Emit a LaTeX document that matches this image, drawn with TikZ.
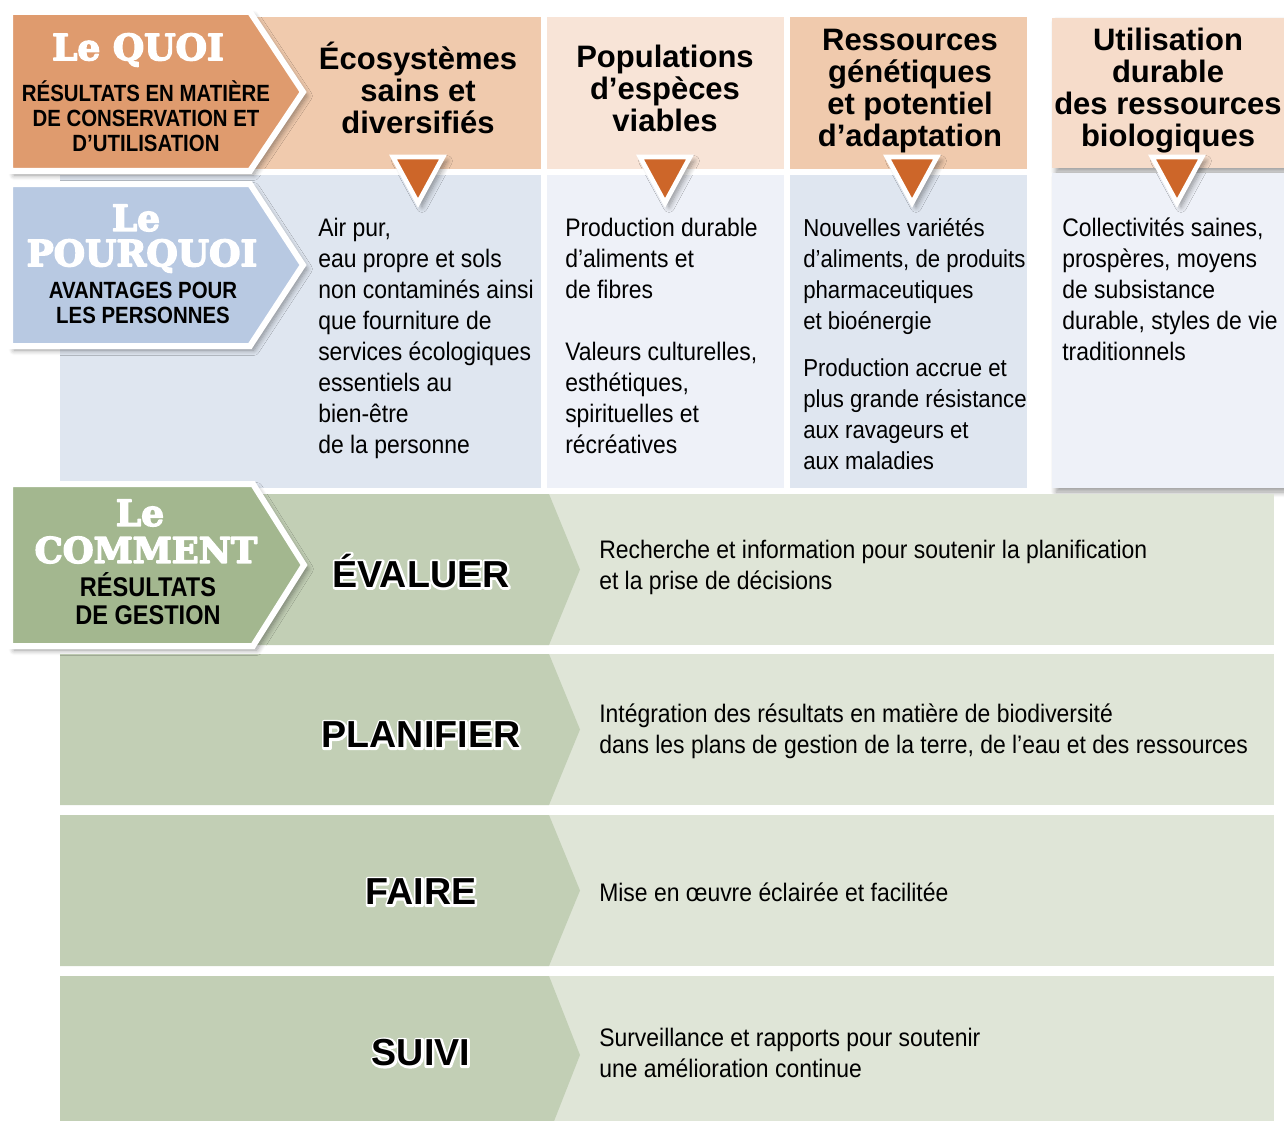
\documentclass[tikz,border=0pt]{standalone}
\usepackage{fontspec}
\setmainfont{Liberation Sans}
\newfontfamily\narrowfont[FakeStretch=0.905]{Liberation Sans}
\newfontfamily\capsfont[FakeStretch=0.87]{Liberation Sans}
\newfontfamily\slabfont{DejaVu Serif}
\usetikzlibrary{shadows.blur}
\definecolor{quoi}{HTML}{DF9B6E}
\definecolor{peachA}{HTML}{F0CAAD}
\definecolor{peachB}{HTML}{F8E4D7}
\definecolor{peachC}{HTML}{F6DCCA}
\definecolor{pourquoi}{HTML}{B8C9E2}
\definecolor{blueA}{HTML}{DFE6F0}
\definecolor{blueB}{HTML}{EEF1F8}
\definecolor{tri}{HTML}{CD6629}
\definecolor{comment}{HTML}{A3B78F}
\definecolor{greenA}{HTML}{C2CFB5}
\definecolor{greenB}{HTML}{DFE5D7}
% black word with a white rim (stroked copy underneath)
\newcommand\rimtext[1]{%
  \rlap{\special{pdf:code 1 Tr 1 1 1 RG 3.4 w 1 j}#1\special{pdf:code 0 Tr 0 0 0 RG 0.4 w 0 j}}#1}
% heavier slab letters
\newcommand\heavy[1]{%
  \special{pdf:code 2 Tr 1 1 1 RG 1.1 w 1 j}#1\special{pdf:code 0 Tr 0 0 0 RG 0.4 w 0 j}}
\begin{document}
\begin{tikzpicture}[x=0.75pt,y=-0.75pt,
  shade/.style={blur shadow={shadow xshift=3pt,shadow yshift=-3pt,shadow opacity=40,shadow blur radius=4pt,shadow blur steps=8}},
  tag/.style={draw=white,line width=4.5pt,shade},
  head/.style={font=\bfseries\fontsize{23.25}{24}\selectfont,align=center,inner sep=0},
  body/.style={font=\narrowfont\fontsize{19}{23.25}\selectfont,align=left,anchor=north west,inner sep=0},
  slab/.style={font=\slabfont\bfseries\fontsize{27}{28}\selectfont,text=white,inner sep=0},
  caps/.style={font=\capsfont\bfseries\fontsize{17.6}{18.8}\selectfont,align=center,inner sep=0},
  step label/.style={font=\bfseries\fontsize{28.2}{29}\selectfont,inner sep=0},
  stepdesc/.style={font=\narrowfont\fontsize{19}{23.25}\selectfont,align=left,anchor=west,inner sep=0}]
\useasboundingbox (0,0) rectangle (1284,1120);
\clip (0,0) rectangle (1284,1120);
% the what / the why cells
\fill[peachA](60,17)rectangle(541,169);
\fill[peachB](547,17)rectangle(784,169);
\fill[peachA](790,17)rectangle(1027,169);
\fill[peachC,shade](1052,18)rectangle(1284,168);
\fill[blueA](60,175)rectangle(541,488);
\fill[blueB](547,175)rectangle(784,488);
\fill[blueA](790,175)rectangle(1027,488);
\fill[blueB,shade](1052,173)rectangle(1284,488);
% the how rows
\foreach \t/\b in {494/645,654/805,976/1134,815/966}{
  \fill[greenB](549,\t)rectangle(1274,\b);
  \fill[greenA](60,\t)--(549,\t)--(580,{(\t+\b)/2})--(549,\b)--(60,\b)--cycle;
}
% down triangles
\foreach \x in {418,665,912,1177}
  \draw[tri,fill=tri,draw=white,line width=3.5pt,shade](\x-25,157)--(\x+25,157)--(\x,203)--cycle;
% side tags
\draw[tag,fill=quoi](10,12)--(250,12)--(303,92)--(250,171)--(10,171)--cycle;
\draw[tag,fill=pourquoi](10,184)--(250,184)--(303,265)--(250,346)--(10,346)--cycle;
\draw[tag,fill=comment](10,484)--(253,484)--(304,565)--(253,646)--(10,646)--cycle;
%
\node[slab] (quoi) at (138,50) {\heavy{Le QUOI}};
\node[caps] (quoisub) at (146,116) {RÉSULTATS EN MATIÈRE\\DE CONSERVATION ET\\D’UTILISATION};
\node[slab] (pourquoi1) at (136,218) {\heavy{Le}};
\node[slab] (pourquoi2) at (142,256) {\heavy{POURQUOI}};
\node[caps] (pourquoisub) at (143,302.5) {AVANTAGES POUR\\LES PERSONNES};
\node[slab] (comment1) at (140,513) {\heavy{Le}};
\node[slab,font=\slabfont\bfseries\fontsize{26.5}{28}\selectfont] (comment2) at (146,550) {\heavy{COMMENT}};
\node[caps,font=\capsfont\bfseries\fontsize{20.3}{21}\selectfont] (commentsub) at (148,599) {RÉSULTATS\\DE GESTION};
% headers
\node[head] (eco) at (418,88) {Écosystèmes\\sains et\\diversifiés};
\node[head] (pop) at (665,88) {Populations\\d’espèces\\viables};
\node[head] (gen) at (910,91) {Ressources\\génétiques\\et potentiel\\d’adaptation};
\node[head] (util) at (1168,91) {Utilisation\\durable\\des ressources\\biologiques};
% benefits
\node[body] (ecotxt) at (318,218) {Air pur,\\eau propre et sols\\non contaminés ainsi\\que fourniture de\\services écologiques\\essentiels au\\bien-être\\de la personne};
\node[body] (poptxt) at (565,218) {Production durable\\d’aliments et\\de fibres\\[23.25pt]Valeurs culturelles,\\esthétiques,\\spirituelles et\\récréatives};
\node[body,font=\narrowfont\fontsize{18.4}{23.25}\selectfont] (gentxt) at (803,218) {Nouvelles variétés\\d’aliments, de produits\\pharmaceutiques\\et bioénergie\\[12pt]Production accrue et\\plus grande résistance\\aux ravageurs et\\aux maladies};
\node[body] (utiltxt) at (1062,218) {Collectivités saines,\\prospères, moyens\\de subsistance\\durable, styles de vie\\traditionnels};
% steps
\node[step label] (evaluer) at (421,571) {\rimtext{ÉVALUER}};
\node[step label] (planifier) at (421,735) {\rimtext{PLANIFIER}};
\node[step label] (faire) at (421,892) {\rimtext{FAIRE}};
\node[step label] (suivi) at (421,1053) {\rimtext{SUIVI}};
\node[stepdesc] (evaltxt) at (599,567) {Recherche et information pour soutenir la planification\\et la prise de décisions};
\node[stepdesc] (plantxt) at (599,731) {Intégration des résultats en matière de biodiversité\\dans les plans de gestion de la terre, de l’eau et des ressources};
\node[stepdesc] (fairetxt) at (599,892) {Mise en œuvre éclairée et facilitée};
\node[stepdesc] (suivitxt) at (599,1053) {Surveillance et rapports pour soutenir\\une amélioration continue};
\end{tikzpicture}
\end{document}
